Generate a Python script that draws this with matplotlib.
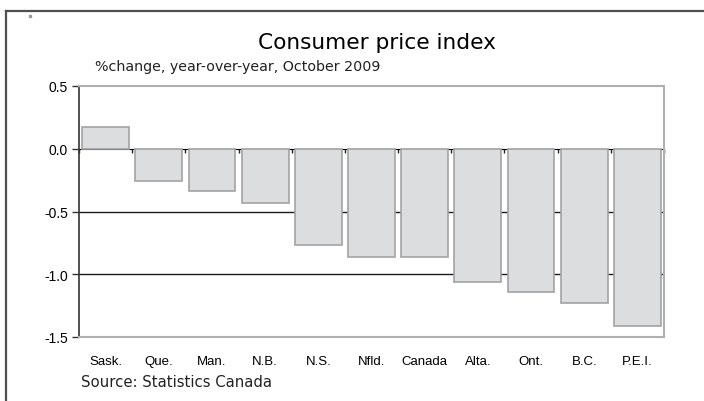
import matplotlib
matplotlib.use("Agg")
import matplotlib.pyplot as plt
from matplotlib.lines import Line2D
import numpy as np

categories = ["Sask.", "Que.", "Man.", "N.B.", "N.S.", "Nfld.", "Canada", "Alta.", "Ont.", "B.C.", "P.E.I."]
values = [0.17, -0.26, -0.34, -0.43, -0.77, -0.86, -0.86, -1.06, -1.14, -1.23, -1.41]
yticks = [0.5, 0.0, -0.5, -1.0, -1.5]
ytick_labels = ["0.5", "0.0", "-0.5", "-1.0", "-1.5"]

title = "Consumer price index"
subtitle = "%change, year-over-year, October 2009"
source = "Source: Statistics Canada"

fig = plt.figure(figsize=(7.04, 4.02), dpi=100)
ax = fig.add_axes([79/704, 1-338/402, (664-79)/704, (338-87)/402])

x = np.arange(len(categories))
ax.bar(x, values, width=0.88, color="#dcdddf", edgecolor="#a3a3a3", linewidth=1.2, zorder=3)
ax.set_xlim(-0.5, len(categories) - 0.5)
ax.set_ylim(-1.5, 0.5)

for v in [-0.5, -1.0]:
    ax.axhline(v, color="#1a1a1a", linewidth=1.0, zorder=1)

ax.set_yticks(yticks)
ax.set_yticklabels(ytick_labels, fontsize=10, family="Liberation Sans")
ax.tick_params(axis="y", direction="out", length=5, width=1, color="#333333", pad=3)
ax.set_xticks(x)
ax.set_xticklabels(categories, fontsize=9.5, family="Liberation Sans")
ax.tick_params(axis="x", length=0, pad=13)

for s in ["top", "right", "bottom"]:
    ax.spines[s].set_color("#b0b0b0")
    ax.spines[s].set_linewidth(1.5)
ax.spines["left"].set_color("#333333")
ax.spines["left"].set_linewidth(1.2)

# zero line with category boundary ticks
sec = ax.secondary_xaxis(0.75)
sec.set_xticks(np.arange(len(categories) + 1) - 0.5)
sec.set_xticklabels([])
sec.tick_params(direction="in", length=3, width=1, color="#222222")
sec.spines["bottom"].set_color("#222222")
sec.spines["bottom"].set_linewidth(1.3)
sec.spines["bottom"].set_zorder(5)

fig.text(377/704, 1-43/402, title, ha="center", va="center", fontsize=15.6, family="DejaVu Sans")
fig.text(95/704, 1-67/402, subtitle, ha="left", va="center", fontsize=10.3,
         family="DejaVu Sans", color="#222222")
fig.text(81/704, 1-383/402, source, ha="left", va="center", fontsize=10.7,
         family="DejaVu Sans", color="#222222")

# outer frame (top and left)
fig.add_artist(Line2D([6/704, 1.0], [1-12/402, 1-12/402], transform=fig.transFigure, color="#505050", linewidth=1.6))
fig.add_artist(Line2D([6/704, 6/704], [1-12/402, 0.0], transform=fig.transFigure, color="#505050", linewidth=1.6))
fig.add_artist(Line2D([30/704], [1-17/402], transform=fig.transFigure, marker="s", markersize=1.5, color="#999999", linestyle="none"))

fig.savefig("out.png", dpi=100)
